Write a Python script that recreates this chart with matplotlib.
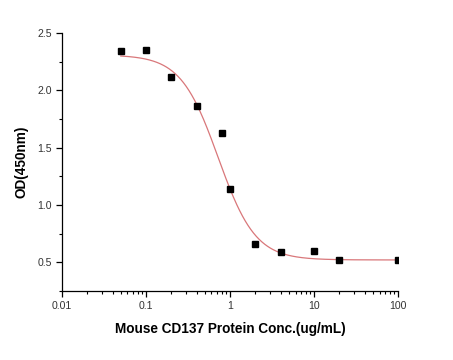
import numpy as np
import matplotlib
matplotlib.use("Agg")
import matplotlib.pyplot as plt
from matplotlib.ticker import LogLocator, MultipleLocator, FixedFormatter, FixedLocator

plt.rcParams["font.family"] = ["Liberation Sans", "DejaVu Sans"]

# measured points
conc = [0.05, 0.1, 0.2, 0.4, 0.8, 1, 2, 4, 10, 20, 100]
od = [2.34, 2.35, 2.12, 1.86, 1.63, 1.14, 0.66, 0.59, 0.60, 0.52, 0.52]

# 4PL fit parameters
fit_top = 2.31
fit_bottom = 0.52
fit_ec50 = 0.72
fit_hill = 1.95

x_ticks = [0.01, 0.1, 1, 10, 100]
x_tick_labels = ["0.01", "0.1", "1", "10", "100"]
y_ticks = [0.5, 1.0, 1.5, 2.0, 2.5]

fig = plt.figure(figsize=(4.53, 3.6), dpi=100)
ax = fig.add_axes([0.137, 0.192, 0.742, 0.716])

xx = np.logspace(np.log10(conc[0]), np.log10(conc[-1]), 400)
yy = fit_bottom + (fit_top - fit_bottom) / (1 + (xx / fit_ec50) ** fit_hill)
ax.plot(xx, yy, color="#d9777a", lw=0.9, zorder=2)
ax.plot(conc, od, "s", color="black", ms=4.4, zorder=3)

ax.set_xscale("log")
ax.set_xlim(0.01, 100)
ax.set_ylim(0.25, 2.5)
ax.xaxis.set_major_locator(FixedLocator(x_ticks))
ax.xaxis.set_major_formatter(FixedFormatter(x_tick_labels))
ax.xaxis.set_minor_locator(LogLocator(base=10, subs=np.arange(2, 10)))
ax.set_yticks(y_ticks)
ax.yaxis.set_minor_locator(MultipleLocator(0.25))

for s in ["top", "right"]:
    ax.spines[s].set_visible(False)
for s in ["left", "bottom"]:
    ax.spines[s].set_linewidth(0.9)

ax.tick_params(which="major", direction="out", length=4, width=0.9, labelsize=7.6, colors="black")
ax.tick_params(which="minor", direction="out", length=2.5, width=0.8)
ax.tick_params(axis="both", labelcolor="#333333")

ax.set_xlabel("Mouse CD137 Protein Conc.(ug/mL)", fontsize=9.8, fontweight="bold", labelpad=8)
ax.set_ylabel("OD(450nm)", fontsize=9.8, fontweight="bold", labelpad=6)

fig.savefig("out.png", dpi=100)
